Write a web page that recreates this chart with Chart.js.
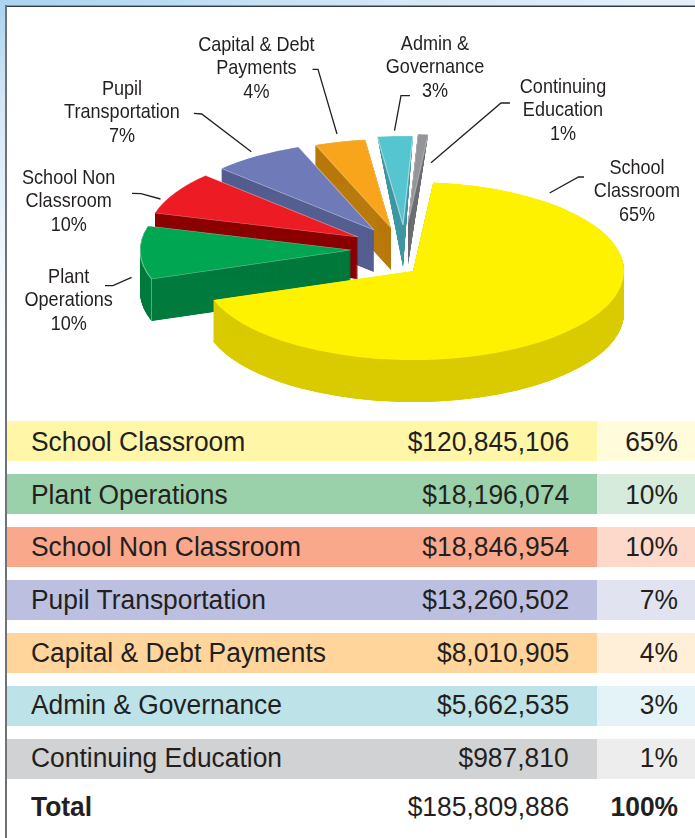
<!DOCTYPE html>
<html>
<head>
<meta charset="utf-8">
<script src="https://cdn.jsdelivr.net/npm/chart.js@4"></script>
<style>
html,body{margin:0;padding:0;background:#fff;width:695px;height:838px;overflow:hidden;}
#page{position:relative;width:695px;height:838px;overflow:hidden;background:#fff;}
#topBand{position:absolute;left:0;top:0;width:695px;height:5px;background:linear-gradient(90deg,#a9d4f1 0%,#d6e9f7 60%,#e3f0f9 100%);}
#leftBand{position:absolute;left:0;top:0;width:5px;height:838px;background:linear-gradient(180deg,#a9d4f1 0%,#d4e7f5 12%,#fdfeff 40%,#ffffff 100%);}
#topLine{position:absolute;left:5px;top:5px;width:690px;height:2px;background:linear-gradient(180deg,#8a97a3 0%,#8a97a3 50%,#333a42 50%,#333a42 100%);}
#leftLine{position:absolute;left:5px;top:5px;width:2px;height:833px;background:#6f7276;}
#chartBox{position:absolute;left:7px;top:8px;width:688px;height:406px;}
#chartBox canvas{display:block;}
.row{position:absolute;left:7px;width:688px;height:40px;font-family:"Liberation Sans",Arial,sans-serif;font-size:27px;color:#231f20;line-height:40px;}
.row span{position:absolute;white-space:nowrap;transform:scaleX(.978);}
.row .lab{left:24px;transform-origin:left center;}
.row .amt{right:126px;transform-origin:right center;}
.row .pct{right:17px;transform-origin:right center;}
.row .tint{position:absolute;left:590px;top:0;width:98px;height:100%;}
.row.total .lab,.row.total .pct{font-weight:bold;}
</style>
</head>
<body>
<div id="page">
  <div id="topBand"></div>
  <div id="leftBand"></div>
  <div id="topLine"></div>
  <div id="leftLine"></div>
  <div id="chartBox"><canvas id="pie" width="688" height="406"></canvas></div>
  <div id="table"></div>
</div>
<script>
// Categories, in the order the table and the pie use
const categories = ["School Classroom","Plant Operations","School Non Classroom","Pupil Transportation","Capital & Debt Payments","Admin & Governance","Continuing Education"];
// Amounts and percentages printed in the table
const amounts = ["$120,845,106","$18,196,074","$18,846,954","$13,260,502","$8,010,905","$5,662,535","$987,810"];
const percents = ["65%","10%","10%","7%","4%","3%","1%"];
const totalAmount = "$185,809,886";
const totalPercent = "100%";
// Slice sizes as drawn in the picture, in degrees of sweep
const sliceSweep = [245.5, 34.7, 28, 25.3, 14, 9.7, 2.8];
// Pie captions
const sliceLabels = [["School","Classroom","65%"],["Plant","Operations","10%"],["School Non","Classroom","10%"],["Pupil","Transportation","7%"],["Capital & Debt","Payments","4%"],["Admin &","Governance","3%"],["Continuing","Education","1%"]];

// Styling
const topColors = ["#FFF200","#00A651","#ED1C24","#6F7AB8","#F9A51B","#55C5D0","#939598"];
const wallColors = ["#D9CB00","#007A3D","#8B0000","#545E90","#B9790B","#3F96A2","#6D6E71"];
const edgeColors = ["rgba(255,255,255,0)","rgba(255,255,255,.45)","rgba(255,255,255,.45)","rgba(255,255,255,.45)","rgba(255,255,255,.3)","rgba(255,255,255,.5)","rgba(255,255,255,.3)"];
const rowColors = ["#FFF6A8","#9AD1AA","#FAA88B","#BCBFE0","#FFD59B","#BDE2E7","#D1D2D4"];
const tintColors = ["#FFFBDB","#D6EBDB","#FDD9CB","#E2E3F1","#FFEFD9","#E4F3F7","#EDEDEE"];
const rowTops = [421,474,527,580,633,686,739];
const rowTextShift = [1,1,0,0,0,-1,-1,0];
const BOX_X = 7, BOX_Y = 8;
const TILT = 0.4218, DEPTH = 42, RADIUS = 211, WALL_STEP = 0.25;
const CAPTION_SQUEEZE = 0.86;
// Page position of each slice's tip; the exploded slices do not move along their mid-angle
const tipX = [413,351,358,374,391,403,408];
const tipY = [271,250,237,230,228,225,223];
const taper = [0,0,0,0,0,1,1];
const paintOrder = [6,5,4,3,2,1,0];
const creaseSlice = 1;
const captionX = [637,68.7,68.7,122,256.4,435,563];
const captionY = [168,277,178,89,45,44,87];
const captionGap = 23.7;
const leaders = [[[584,177],[578.5,177],[549.6,193]],[[105,285.7],[113,285.7],[131.6,277.3]],[[132,193.3],[141,193.7],[160.5,199]],[[194,113.3],[201.7,114],[251.3,151.7]],[[312.5,69.3],[318,69.3],[337,134]],[[410,95.7],[401,95.7],[394.5,130.7]],[[510,103],[501,103],[431,162.7]]];

const tiltedPie = {
  id:"tiltedPie",
  beforeDatasetDraw(chart, args){
    const ctx = chart.ctx, arcs = args.meta.data;
    paintOrder.forEach(i=>{
      const arc = arcs[i], base = arc.options;
      const px = tipX[i]-BOX_X, py = tipY[i]-BOX_Y;
      arc.options = Object.assign({}, base, {backgroundColor: wallColors[i]});
      for(let k=WALL_STEP;k<=DEPTH;k+=WALL_STEP){
        const s = 1 - taper[i]*k/DEPTH;
        ctx.save();
        ctx.translate(px,py+k);
        ctx.scale(s,s*TILT);
        ctx.translate(-arc.x,-arc.y);
        arc.draw(ctx);
        ctx.restore();
      }
      arc.options = Object.assign({}, base, {borderWidth:1.2, borderColor:edgeColors[i]});
      ctx.save();
      ctx.translate(px,py);
      ctx.scale(1,TILT);
      ctx.translate(-arc.x,-arc.y);
      arc.draw(ctx);
      ctx.restore();
      arc.options = base;
      if(i===creaseSlice){
        const cx = px + arc.outerRadius*Math.cos(arc.startAngle);
        const cy = py + arc.outerRadius*TILT*Math.sin(arc.startAngle);
        ctx.save();
        ctx.strokeStyle="rgba(255,255,255,.35)"; ctx.lineWidth=1;
        ctx.beginPath(); ctx.moveTo(cx,cy); ctx.lineTo(cx,cy+DEPTH); ctx.stroke();
        ctx.restore();
      }
    });
    ctx.save();
    ctx.translate(-BOX_X,-BOX_Y);
    ctx.strokeStyle="#231f20"; ctx.lineWidth=1.3;
    leaders.forEach(pts=>{
      ctx.beginPath();
      pts.forEach((p,j)=> j?ctx.lineTo(p[0],p[1]):ctx.moveTo(p[0],p[1]));
      ctx.stroke();
    });
    ctx.fillStyle="#231f20";
    ctx.font='21px "Liberation Sans",Arial,sans-serif';
    ctx.textAlign="center"; ctx.textBaseline="middle";
    sliceLabels.forEach((lines,i)=>{
      lines.forEach((t,j)=>{
        ctx.save();
        ctx.translate(captionX[i],captionY[i]+j*captionGap);
        ctx.scale(CAPTION_SQUEEZE,1);
        ctx.fillText(t,0,0);
        ctx.restore();
      });
    });
    ctx.restore();
    return false;
  }
};

new Chart(document.getElementById("pie"),{
  type:"pie",
  data:{labels:categories,datasets:[{data:sliceSweep,backgroundColor:topColors,borderWidth:0}]},
  options:{
    responsive:false,animation:false,rotation:5.5,radius:RADIUS,
    layout:{padding:0},
    plugins:{legend:{display:false},tooltip:{enabled:false}}
  },
  plugins:[tiltedPie]
});

const table = document.getElementById("table");
function addRow(top,label,amt,pct,bg,tint,cls,shift){
  const r=document.createElement("div");
  r.className="row"+(cls?" "+cls:"");
  r.style.top=top+"px";
  if(bg) r.style.background=bg;
  if(tint){const t=document.createElement("div");t.className="tint";t.style.background=tint;r.appendChild(t);}
  [["lab",label],["amt",amt],["pct",pct]].forEach(([c,t])=>{const s=document.createElement("span");s.className=c;s.textContent=t;s.style.top=shift+"px";r.appendChild(s);});
  table.appendChild(r);
}
categories.forEach((c,i)=>addRow(rowTops[i],c,amounts[i],percents[i],rowColors[i],tintColors[i],"",rowTextShift[i]));
addRow(787,"Total",totalAmount,totalPercent,null,null,"total",rowTextShift[7]);
</script>
</body>
</html>
